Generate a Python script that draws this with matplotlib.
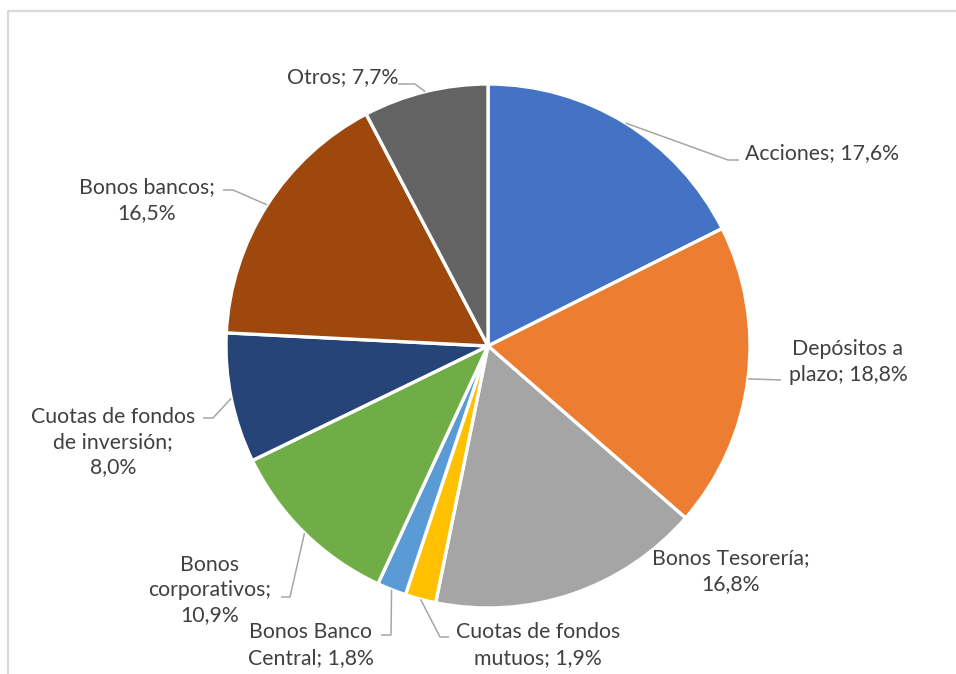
import numpy as np
import matplotlib
matplotlib.use("Agg")
import matplotlib.pyplot as plt

categories = ["Acciones", "Depósitos a plazo", "Bonos Tesorería", "Cuotas de fondos mutuos",
              "Bonos Banco Central", "Bonos corporativos", "Cuotas de fondos de inversión",
              "Bonos bancos", "Otros"]
values = [17.6, 18.8, 16.8, 1.9, 1.8, 10.9, 8.0, 16.5, 7.7]
label_texts = ["Acciones; 17,6%", "Depósitos a\nplazo; 18,8%", "Bonos Tesorería;\n16,8%",
               "Cuotas de fondos\nmutuos; 1,9%", "Bonos Banco\nCentral; 1,8%",
               "Bonos\ncorporativos;\n10,9%", "Cuotas de fondos\nde inversión;\n8,0%",
               "Bonos bancos;\n16,5%", "Otros; 7,7%"]
colors = ["#4472C4", "#ED7D31", "#A5A5A5", "#FFC000", "#5B9BD5", "#70AD47",
          "#264478", "#9E480E", "#636363"]

W, H = 956, 674
fig = plt.figure(figsize=(W / 100, H / 100), dpi=100)
ax = fig.add_axes([0, 0, 1, 1])

def py(y):
    return H - y

cx, cy, R = 488, py(346), 262
wedges, _ = ax.pie(values, colors=colors, startangle=90, counterclock=False,
                   center=(cx, cy), radius=R,
                   wedgeprops=dict(edgecolor="white", linewidth=2.4))
ax.set_xlim(0, W)
ax.set_ylim(0, H)
ax.set_aspect("equal")
ax.set_axis_off()

# label layout (pixel coords): text center, leader elbow, leader end
layout = [
    ((822, 153), (728, 160), (739, 160)),
    ((848, 362), None, (781, 380)),
    ((731, 571), None, None),
    ((538, 645), (440, 637), (449, 637)),
    ((311, 645), (391, 635), (381, 635)),
    ((210, 590), (290, 597), (281, 597)),
    ((113, 442), (213, 418), (203, 418)),
    ((147, 200), (233, 190), (223, 190)),
    ((343, 77), (415, 84), (398, 84)),
]

txt_color = "#404040"
line_color = "#A6A6A6"
for w, txt, (tpos, elbow, end) in zip(wedges, label_texts, layout):
    ax.text(tpos[0], py(tpos[1]), txt, ha="center", va="center", multialignment="center",
            fontsize=15.3, color=txt_color, family=["Lato", "DejaVu Sans"], linespacing=1.33)
    if end is None:
        continue
    ang = np.deg2rad((w.theta1 + w.theta2) / 2)
    sx, sy = cx + R * np.cos(ang), cy + R * np.sin(ang)
    xs, ys = [sx], [sy]
    if elbow is not None:
        xs.append(elbow[0]); ys.append(py(elbow[1]))
    xs.append(end[0]); ys.append(py(end[1]))
    ax.plot(xs, ys, color=line_color, lw=1.1, solid_capstyle="butt")

# chart border (top and left visible)
ax.plot([8.5, 8.5, W + 5], [-5, py(10.5), py(10.5)], color="#D9D9D9", lw=1.6, clip_on=False)

fig.savefig("out.png", dpi=100)
